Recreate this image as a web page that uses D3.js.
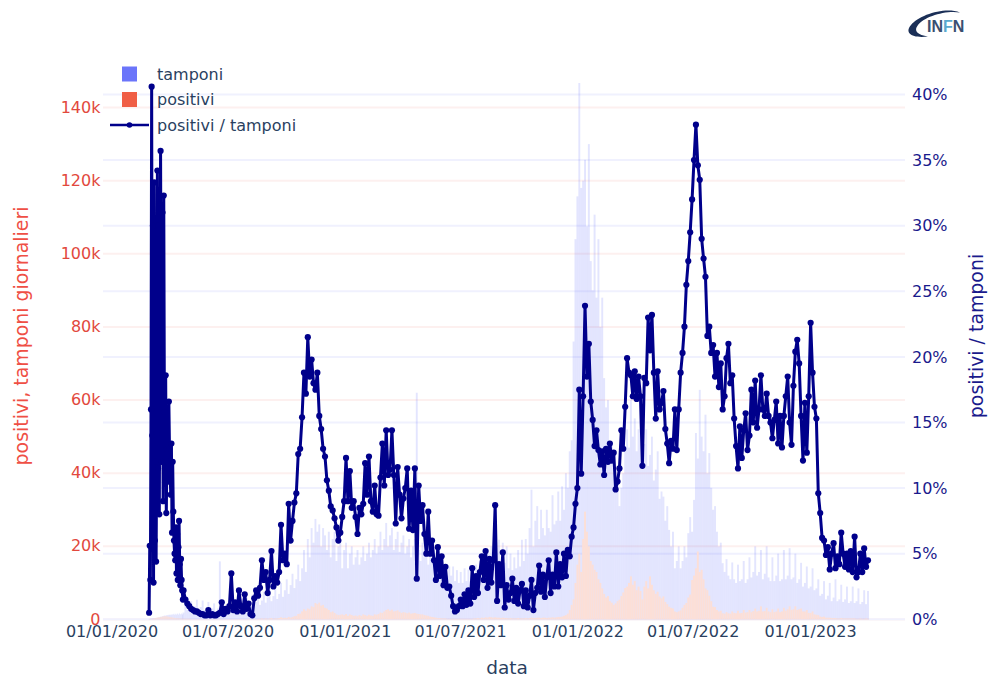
<!DOCTYPE html>
<html><head><meta charset="utf-8">
<script src="https://cdn.jsdelivr.net/npm/d3@7"></script>
<style>html,body{margin:0;background:#fff}svg{display:block}text{font-family:"DejaVu Sans",sans-serif}</style>
</head><body><svg id="c" width="991" height="681"></svg>
<script>
// values; first 55 samples are one day apart, then three days apart
const earlyRatio=[0.5,5.6,3,16,40.6,14,30,2.8,33.3,6,
12,4.4,14.2,34.2,11.5,30,8,22,35.7,19.6,
12,31,9,32.3,15.8,10.4,18.6,8.1,13,12,
10.5,16.6,13,11,9.5,13.4,6.6,12,8.2,6,
5,4.5,7,3.5,6.5,3,5.5,7.5,4.2,2.6,
4.6,3,2.2,1.5,2.2];
const laterRatio=[1.5,1.2,1.0,0.8,0.7,0.6,0.6,0.5,0.4,0.4,0.3,0.3,0.7,0.3,0.4,0.3,0.3,0.4,0.5,1.3,
0.4,0.8,0.6,1.0,3.5,0.7,1.3,0.6,2.2,1.0,0.6,1.9,0.8,1.2,0.4,0.3,1.6,2.2,1.8,2.4,
4.5,3,3.6,2,3,5.2,2.5,3.3,2.8,3.6,7.2,4.5,5,4.2,8.8,6,7.5,8.9,9.6,12.6,
13,15.4,18.8,17.2,21.5,18.5,19.8,18,17.5,18.8,15.5,14.5,13,12.4,10.6,9.8,8.6,8.3,7.7,7,
6,6.6,7.8,9,12.3,9,11.3,8.5,9,7.8,6.5,8.5,8,8.8,11.9,9.5,12.4,9,8.2,10.2,
8,7.9,10.8,13.4,10.2,14.4,11,11.4,14.4,11,7.3,11.6,9.5,7.7,9.2,10,11.5,6.9,9.8,6.8,
11.5,3.1,10.2,7.5,8.7,6.5,5,8.2,5,6,4.5,3,5.5,3.3,4.8,2.6,4,2.4,2.5,1.8,
1,0.6,0.7,1,1.5,1,1.9,1.1,2.2,1.2,3.9,1.7,3.3,2,3.6,4.8,3,5.2,2.4,4.6,
2.8,4.5,8.7,1.4,4.2,2.6,5.1,0.9,2.6,1.5,2,3.1,1.4,2.4,1.2,2.2,2.7,1,2.2,0.9,
1.8,3,0.7,2,2.4,4.1,2.1,3.4,1.7,3.2,4.5,2,3.4,2.5,5.1,2.5,4.2,3.2,5,3.3,
5.3,4.8,6.3,7,8.8,10,17.5,11.1,17,23.9,18.5,21,16.6,15.2,13.2,14.4,12.9,11.8,12.8,11,
13,12,13.4,12.1,12.7,9.9,10.5,11.5,14.4,13,16.2,19.9,18.8,18.6,17,18.9,16.8,18.5,17,11.7,
18.4,18,23,20.5,23.2,18.8,15.3,18.9,16,16.5,17.4,14.5,13.4,11.9,13.6,13,16,12.9,16,18.8,
20.3,22.3,25.5,27.3,29.5,32,35,37.7,34.6,33.5,29,27.5,26.1,21.6,22.3,20.3,20.9,18.5,20.3,17.7,
19.5,16,17,19.9,21,18,18.6,15.3,13.2,11.5,14.7,12.3,14.4,15.7,12.9,14,17.5,15,18.2,14.6,
16,18.6,16,15.5,17.2,15.5,15,13.8,15.2,16.6,13.4,15.5,13.1,15.5,17,18.5,15,13.3,17.8,20.4,
21.3,19.5,15.5,12.1,16.5,12.7,17,22.6,18.8,16.2,15.3,9.6,8.1,6.2,6,4.9,5.5,3.8,5,5.8,
3.9,4.8,4.2,6.6,5,4,5,3.8,5.2,3.6,6.3,3.2,3.6,5,3.6,5.4,4,4.5];

const earlyTamponi=[0.2,0.2,0.3,0.3,0.3,0.3,0.4,0.4,0.3,0.4,
0.4,0.5,0.4,0.5,0.5,0.6,0.6,0.7,0.8,0.7,
0.8,0.9,0.9,1,1.1,1,1.1,1.2,1.1,1.2,
1.3,1.2,1.3,1.4,1.2,1.3,1.5,1.3,1.4,1.6,
1.3,1.4,1.6,1.3,1.5,1.7,1.3,1.5,1.8,1.4,
1.5,1.7,1.3,1.5,1.9];
const laterTamponi=[4.2,2.6,3.5,5,3,3.6,5.4,2.8,3.4,5.2,2.6,3.2,4.8,2.4,3,4.4,2.2,3,15.9,2.6,
3.2,2.2,3.5,4.6,2.4,3.4,4.8,2.6,4,5.6,3,4.2,6,3.2,4.6,6.8,3.6,4.8,7,4,
5.2,7.6,4.6,6,8.4,5,6.4,9.2,5.6,7,10,6.2,8,11,7,9.4,12.5,8.6,11,15,
10.5,14,19,13,22,17,25,21,27.5,24,26,20,25,23,19,24,17,22,24,16,
20,22,14,19,21,14,18,20,15,17,19,15,17,20,16,18,21,17,19,22,
18,20,24,19,22,26.4,20,23,25,19,22,24,18.5,21,23,18,20,22,17,20,
22,62,19,16,21,17,20,15,19,16,18,14,17,13.5,16,12.5,15,12,14.5,12,
14.5,10.5,13.5,10,13,10,14,10.5,13.6,10.5,14,11,15,12,16,13,18,14,19,15,
20,16,21,15.5,21.8,16,21,15.5,20,14,18,13.5,17,14,19,14.5,21.8,16,22,18,
25,35.5,20,27,31,22,30,25,23,30,25,24,34,26,27,35,27,36.4,30,40,
36,46,49,76,104,115.7,146.7,118,120,125.7,107.5,130,98,90,110.7,88,104,80,88,66,
58,60,46,48,40,36,38,31,36,40,46,52,47,60,50,55,46,52,60,44,
48,52,42,45,50,38,41,46,33,35,33.6,27,31,24.5,20,24,14,16,20,14,
16,20,17,23.6,28,24,32.7,51,44,62.8,50,46,56,40,45.5,36,30,31,24,20,
21,15.4,13,16.5,12,11,15.6,11,10,15,10.5,11,16,10,11,17,11.5,13,20,12,
13,19,11,12.5,20,11.5,10.5,17,10.5,12,18,10.5,11,19,11,12,19.5,11,11.5,18,
10,11,15.5,9,10,14.5,8.5,9,14,8,8.5,11,6.5,7,10.5,5.5,6.5,10,5,6,
11,5,5.5,9.5,4.8,5.5,9,4.5,5,9,4.5,5,8.5,4.2,4.8,8,4.2,7.8];

const earlyPositivi=[0.1,0.1,0.1,0.2,0.2,0.2,0.3,0.3,0.2,0.4,
0.4,0.4,0.5,0.5,0.6,0.6,0.5,0.7,0.7,0.6,
0.8,0.8,0.7,0.9,0.9,0.8,0.9,0.9,0.8,0.8,
0.8,0.7,0.7,0.7,0.6,0.6,0.6,0.5,0.5,0.5,
0.4,0.4,0.4,0.3,0.3,0.4,0.3,0.3,0.3,0.2,
0.3,0.2,0.2,0.2,0.2];
const laterPositivi=[.2,.2,.2,.1,.1,.1,.1,.1,.1,.1,.1,.1,.1,.1,.1,.1,.1,.1,.1,.1,
.1,.1,.1,.1,.1,.1,.1,.1,.1,.1,.1,.1,.1,.2,.1,.1,.2,.1,.2,.2,
.3,.2,.3,.2,.3,.4,.2,.3,.3,.4,.6,.4,.5,.4,.7,.5,.7,.9,1,1.5,
1.6,2.2,2.8,2.4,3,2.8,3.6,3.4,4.5,4.2,4.6,3.8,4,3.2,3,2.6,2,2.2,1.8,1.4,
1.2,1.3,1.4,1.2,1.5,1,1.4,1.2,1,1.1,.9,1.2,1,1.4,1.2,1,1.3,1.1,1,1.4,
1.3,1.5,1.9,1.8,2.2,2.6,2.8,2.4,2.7,2.2,2.3,2.5,2.1,1.8,2,1.9,1.7,1.9,1.6,1.7,
1.8,1.6,1.5,1.4,1.4,1.2,1.1,1,.8,.7,.6,.5,.4,.4,.3,.3,.3,.2,.2,.2,
.2,.2,.2,.2,.2,.2,.2,.2,.2,.2,.2,.3,.3,.4,.3,.5,.4,.6,.5,.7,
.6,.5,.6,.5,.5,.4,.5,.4,.4,.3,.4,.3,.3,.3,.4,.3,.3,.3,.4,.3,
.4,.5,.4,.4,.5,.5,.4,.5,.5,.4,.5,.5,.6,.5,.6,.7,.7,.8,1,1.2,
1.6,2.6,4,5.5,10,15,18,13,22,29.5,24,20,16,15,13.6,13,11,10,8.5,7,
6,6.4,5,4.6,4,4.4,5,5.4,6.4,7.4,8.6,9,10,11.8,9.5,10.5,8,9,7.8,5.5,
9,10.5,8.5,11.8,9.5,8,7,7.6,6.3,5.8,6.3,4.8,4.2,3.5,3.2,3,2.2,2,2.2,2.5,
3.2,4,4.5,6,6.8,10.8,12,14,18.6,13,13.6,11,8.5,8,6.5,5,3.5,3.4,2.6,2.2,
2.4,1.7,1.6,2,1.7,1.6,2.2,1.8,1.7,2.4,1.7,1.8,2.6,1.9,2,2.6,2,2.3,3,2.2,
2.4,3.6,2.2,2.3,3.2,2.2,2,2.8,2,2.2,3,2,2.2,3.2,2.4,2.8,3.6,2.6,2.8,3.6,
2.6,2.8,3,2.2,2.2,2.6,1.8,1.8,2.2,1.4,1.3,1.2,.8,.7,.8,.5,.5,.5,.4,.4,
.4,.3,.3,.4,.3,.3,.3,.3,.3,.3,.3,.2,.2,.3,.2,.2,.3,.2];

const firstDay="2020-02-29";
const xTickDates=["2020-01-01","2020-07-01","2021-01-01","2021-07-01","2022-01-01","2022-07-01","2023-01-01"];
const leftTicks=[0,20,40,60,80,100,120,140];
const rightTicks=[0,5,10,15,20,25,30,35,40];
const legendLabels=["tamponi","positivi","positivi / tamponi"];

const start=new Date(firstDay+"T00:00:00Z");
const dayOffsets=earlyRatio.map((_,i)=>i).concat(laterRatio.map((_,i)=>earlyRatio.length+2+i*3));
const dates=dayOffsets.map(o=>d3.utcDay.offset(start,o));
const ratio=earlyRatio.concat(laterRatio);
const tamponi=earlyTamponi.concat(laterTamponi);
const positivi=earlyPositivi.concat(laterPositivi);

const svg=d3.select("#c");
const x=d3.scaleUtc().domain([new Date("2020-01-01T00:00:00Z"),new Date("2023-01-01T00:00:00Z")]).range([111.5,810]);
const yL=d3.scaleLinear().domain([0,140]).range([619.5,107.5]);
const yR=d3.scaleLinear().domain([0,40]).range([619.3,94.5]);
const gridL=103,gridR=905;

const BLUE="#636efa",RED="#ef553b",NAVY="#00008b";

// grids
svg.append("g").selectAll("line").data(leftTicks).join("line")
 .attr("x1",gridL).attr("x2",gridR).attr("y1",d=>yL(d)).attr("y2",d=>yL(d))
 .attr("stroke","#fdf0ef").attr("stroke-width",2);
svg.append("g").selectAll("line").data(rightTicks).join("line")
 .attr("x1",gridL).attr("x2",gridR).attr("y1",d=>yR(d)).attr("y2",d=>yR(d))
 .attr("stroke","#f0f1fe").attr("stroke-width",2);

// bars
const barW=i=>i<dates.length-1?x(dates[i+1])-x(dates[i]):x(dates[i])-x(dates[i-1]);
const bars=(vals,col,op)=>svg.append("g").selectAll("rect").data(vals).join("rect")
 .attr("x",(d,i)=>x(dates[i])-barW(i)/2).attr("width",(d,i)=>barW(i))
 .attr("y",d=>yL(d)).attr("height",d=>yL(0)-yL(d))
 .attr("fill",col).attr("fill-opacity",op);
bars(tamponi,BLUE,0.18);
bars(positivi,"#fcdfd7",1);

// line + markers
const line=d3.line().x((d,i)=>x(dates[i])).y(d=>yR(d));
svg.append("path").datum(ratio).attr("d",line).attr("fill","none").attr("stroke",NAVY).attr("stroke-width",3).attr("stroke-linejoin","round");
svg.append("g").selectAll("circle").data(ratio).join("circle")
 .attr("cx",(d,i)=>x(dates[i])).attr("cy",d=>yR(d)).attr("r",3.1).attr("fill",NAVY);

// axes
const style=(g,col,size)=>{g.select(".domain").remove();g.selectAll("line").remove();g.selectAll("text").attr("fill",col).style("font-size",size+"px");};
svg.append("g").attr("transform","translate(0,624.5)")
 .call(d3.axisBottom(x).tickValues(xTickDates.map(s=>new Date(s+"T00:00:00Z"))).tickFormat(d3.utcFormat("%d/%m/%Y")).tickSize(0).tickPadding(0))
 .call(g=>style(g,"#2a3f5f",16)).selectAll("text").attr("dy","0.8em");
svg.append("g").attr("transform","translate(100.5,-0.5)")
 .call(d3.axisLeft(yL).tickValues(leftTicks).tickFormat(d=>d?d+"k":"0").tickSize(0).tickPadding(0))
 .call(g=>style(g,"#e2483d",16));
svg.append("g").attr("transform","translate(912,0)")
 .call(d3.axisRight(yR).tickValues(rightTicks).tickFormat(d=>d+"%").tickSize(0).tickPadding(0))
 .call(g=>style(g,"#1a1a8c",16));

// titles
svg.append("text").attr("x",507).attr("y",674).attr("text-anchor","middle").attr("fill","#2a3f5f").style("font-size","18.5px").text("data");
svg.append("text").attr("transform","translate(28,336) rotate(-90)").attr("text-anchor","middle").attr("fill","#ef4f45").style("font-size","18.9px").text("positivi, tamponi giornalieri");
svg.append("text").attr("transform","translate(983,336) rotate(-90)").attr("text-anchor","middle").attr("fill","#1a1a8c").style("font-size","18.9px").text("positivi / tamponi");

// legend
const legY=d3.scalePoint().domain(legendLabels).range([74,125]);
const leg=svg.append("g");
leg.selectAll("text").data(legendLabels).join("text").attr("x",157).attr("y",d=>legY(d)+5.5)
 .attr("fill","#2a3f5f").style("font-size","16px").text(d=>d);
leg.selectAll("rect").data(legendLabels.slice(0,2)).join("rect").attr("x",122).attr("y",d=>legY(d)-7.5).attr("width",15).attr("height",15)
 .attr("fill",(d,i)=>i?RED:BLUE).attr("fill-opacity",0.95);
leg.append("line").attr("x1",110).attr("x2",149).attr("y1",legY(legendLabels[2])).attr("y2",legY(legendLabels[2])).attr("stroke",NAVY).attr("stroke-width",2.4);
leg.append("circle").attr("cx",129.5).attr("cy",legY(legendLabels[2])).attr("r",2.8).attr("fill",NAVY);

// logo
const logo=svg.append("g");
logo.append("path").attr("d","M928 36.5C912 38.5 904 33 911 25C919 15 945 6.5 960 12.5C945 10 924 17 918 25C913 31 918 35 928 36.5Z").attr("fill","#1b2f57");
const lt=logo.append("text").attr("x",927).attr("y",32).style("font-family","'Liberation Sans',sans-serif").style("font-size","16px").style("font-weight","700").attr("fill","#3a4f70");
lt.append("tspan").text("IN");
lt.append("tspan").attr("fill","#5aa9cf").text("F");
lt.append("tspan").text("N");
</script></body></html>
